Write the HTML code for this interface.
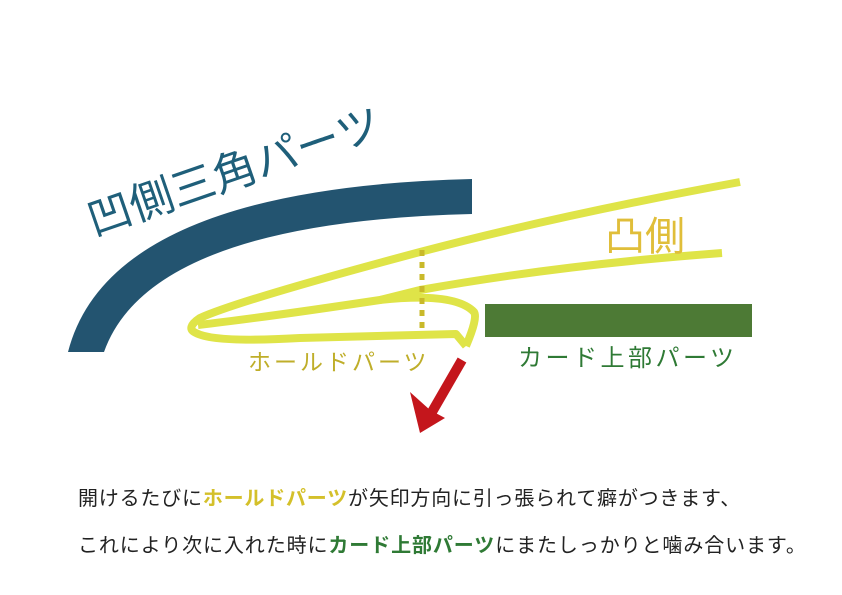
<!DOCTYPE html>
<html><head><meta charset="utf-8"><style>
html,body{margin:0;padding:0;background:#fff;}
svg{display:block;}
text{font-family:"Liberation Sans","Noto Sans CJK JP",sans-serif;}
</style></head><body>
<svg width="842" height="595" viewBox="0 0 842 595" xmlns="http://www.w3.org/2000/svg">
<rect width="842" height="595" fill="#fff"/>
<path d="M68,352 Q110,188 472,179 L472,214 Q150,222 104,352 Z" fill="#235470"/>
<g fill="none" stroke="#dfe448" stroke-width="8" stroke-linecap="butt" stroke-linejoin="round">
<path d="M740,182 Q560,215 420,252 Q240,300 200,318 Q185,328 196,333 Q215,343 300,338 L456,334 L466,346"/>
<path d="M722,253 Q560,265 420,290 L380,300 Q260,318 198,325"/>
<path d="M380,300 Q455,292 474,312 Q478,318 466,346"/>
</g>
<line x1="422" y1="250" x2="422" y2="330" stroke="#c9b92a" stroke-width="5" stroke-dasharray="6,6"/>
<rect x="485" y="304" width="267" height="33" fill="#4d7a35"/>
<path d="M462,360 L432,412" stroke="#c4161c" stroke-width="10" fill="none"/>
<path d="M410,392 L420,433 L445,418 L430,410 Z" fill="#c4161c"/>
<text x="0" y="0" font-size="44" fill="#1f5f7a" transform="translate(94,236) rotate(-19)">凹側三角パーツ</text>
<text x="605" y="250" font-size="40" fill="#e0be3a">凸側</text>
<text x="248" y="370" font-size="23" letter-spacing="3" fill="#bfae2a">ホールドパーツ</text>
<text x="518" y="366" font-size="24" letter-spacing="3.5" fill="#2f7a35">カード上部パーツ</text>
<text x="78" y="505" font-size="20" letter-spacing="0.8" fill="#222">開けるたびに<tspan fill="#d4c02a" font-weight="bold">ホールドパーツ</tspan>が矢印方向に引っ張られて癖がつきます、</text>
<text x="78" y="552" font-size="20" letter-spacing="0.9" fill="#222">これにより次に入れた時に<tspan fill="#2f7a35" font-weight="bold">カード上部パーツ</tspan>にまたしっかりと噛み合います。</text>
</svg>
</body></html>
